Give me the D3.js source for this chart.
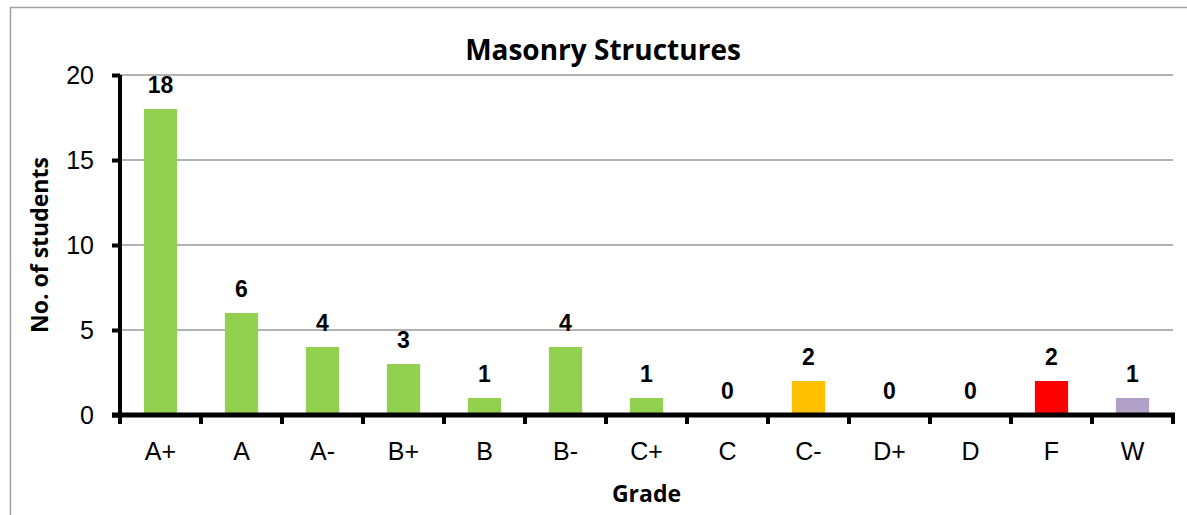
<!DOCTYPE html>
<html>
<head>
  <meta charset="utf-8">
  <title>Masonry Structures</title>
  <script src="https://d3js.org/d3.v7.min.js"></script>
  <style>
    body { margin: 0; background: #fff; }
  </style>
</head>
<body>
  <svg id="grafico"></svg>

  <script>
    const grados = ["A+", "A", "A-", "B+", "B", "B-", "C+", "C", "C-", "D+", "D", "F", "W"];
    const alumnos = [18, 6, 4, 3, 1, 4, 1, 0, 2, 0, 0, 2, 1];
    const colores = ["#92d050", "#92d050", "#92d050", "#92d050", "#92d050", "#92d050", "#92d050",
                     "#92d050", "#ffc000", "#92d050", "#92d050", "#ff0000", "#b1a0c7"];
    const marcasY = [0, 5, 10, 15, 20];

    const ancho = 1187, alto = 515;
    const m = { izq: 120, der: 1173, arr: 75, abj: 415 };

    const svg = d3.select("#grafico")
      .attr("width", ancho)
      .attr("height", alto);

    // marco exterior
    svg.append("rect")
      .attr("x", 10.5).attr("y", 7.5)
      .attr("width", 1200).attr("height", 600)
      .style("fill", "none")
      .style("stroke", "#a0a0a0")
      .style("stroke-width", 1.5);

    const x = d3.scaleBand()
      .domain(grados)
      .range([m.izq, m.der])
      .paddingInner(0.59)
      .paddingOuter(0.295);

    const y = d3.scaleLinear()
      .domain([0, 20])
      .range([m.abj, m.arr]);

    // rejilla
    svg.selectAll(".rejilla")
      .data(marcasY.filter(d => d > 0))
      .enter()
      .append("line")
      .attr("x1", m.izq).attr("x2", m.der)
      .attr("y1", d => y(d)).attr("y2", d => y(d))
      .style("stroke", "#989898")
      .style("stroke-width", 1.5);

    // barras
    svg.selectAll(".barra")
      .data(alumnos)
      .enter()
      .append("rect")
      .attr("x", (d, i) => x(grados[i]))
      .attr("y", d => y(d))
      .attr("width", x.bandwidth())
      .attr("height", d => y(0) - y(d))
      .style("fill", (d, i) => colores[i]);

    // etiquetas de valor
    svg.selectAll(".valor")
      .data(alumnos)
      .enter()
      .append("text")
      .attr("x", (d, i) => x(grados[i]) + x.bandwidth() / 2)
      .attr("y", d => y(d) - 16)
      .attr("text-anchor", "middle")
      .style("font-family", "Liberation Sans, Arial, sans-serif")
      .style("font-weight", "bold")
      .style("font-size", "23px")
      .text(d => d);

    // eje Y
    const ejeY = svg.append("g")
      .attr("transform", `translate(${m.izq},0)`)
      .call(d3.axisLeft(y).tickValues(marcasY).tickSize(8).tickPadding(18));
    ejeY.select(".domain").style("stroke", "#000").style("stroke-width", 4)
      .attr("d", `M0,${m.arr}V${m.abj}`);
    ejeY.selectAll(".tick line").style("stroke-width", 4);
    ejeY.selectAll(".tick text")
      .style("font-family", "Liberation Sans, Arial, sans-serif")
      .style("font-size", "25px")
      .attr("dy", "0.35em")
      .style("fill", "#000");

    // eje X
    const ejeX = svg.append("g")
      .attr("transform", `translate(0,${m.abj})`);
    ejeX.append("line")
      .attr("x1", m.izq - 8).attr("x2", m.der + 2)
      .attr("y1", 0).attr("y2", 0)
      .style("stroke", "#000").style("stroke-width", 5);
    const paso = x.step();
    ejeX.selectAll(".marca")
      .data(d3.range(grados.length + 1))
      .enter()
      .append("line")
      .attr("x1", i => m.izq + i * paso).attr("x2", i => m.izq + i * paso)
      .attr("y1", 0).attr("y2", 9)
      .style("stroke", "#000").style("stroke-width", 4);
    ejeX.selectAll(".etq")
      .data(grados)
      .enter()
      .append("text")
      .attr("x", d => x(d) + x.bandwidth() / 2)
      .attr("y", 45)
      .attr("text-anchor", "middle")
      .style("font-family", "Liberation Sans, Arial, sans-serif")
      .style("font-size", "25px")
      .text(d => d);

    // títulos
    svg.append("text")
      .attr("x", 603).attr("y", 60)
      .attr("text-anchor", "middle")
      .style("font-family", "Open Sans, sans-serif")
      .style("font-weight", "bold")
      .style("font-size", "28px")
      .text("Masonry Structures");

    svg.append("text")
      .attr("x", (m.izq + m.der) / 2).attr("y", 502)
      .attr("text-anchor", "middle")
      .style("font-family", "Open Sans, sans-serif")
      .style("font-weight", "bold")
      .style("font-size", "23px")
      .text("Grade");

    svg.append("text")
      .attr("transform", `translate(48,${(m.arr + m.abj) / 2}) rotate(-90)`)
      .attr("text-anchor", "middle")
      .style("font-family", "Open Sans, sans-serif")
      .style("font-weight", "bold")
      .style("font-size", "23px")
      .text("No. of students");
  </script>
</body>
</html>
